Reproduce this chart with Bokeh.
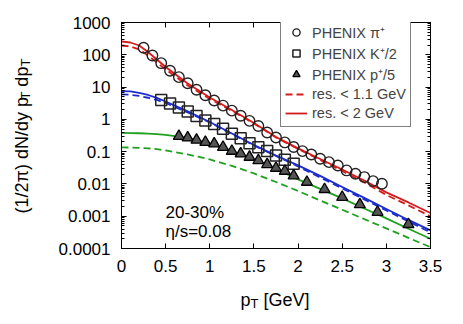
import math
from bokeh.plotting import figure
from bokeh.models import Legend, LegendItem, LinearAxis, LogAxis, FixedTicker, Label, Range1d
from bokeh.embed import file_html
from bokeh.resources import INLINE

# ---------------- data ----------------
pion_pt = [0.25, 0.35, 0.45, 0.55, 0.65, 0.75, 0.85, 0.95, 1.05, 1.15, 1.25, 1.35, 1.45, 1.55,
           1.65, 1.75, 1.85, 1.95, 2.05, 2.15, 2.25, 2.35, 2.45, 2.55, 2.65, 2.75, 2.85, 2.95]
pion_y = [165, 95, 55, 32, 20.3, 13.2, 8.25, 5.61, 3.85, 2.67, 1.86, 1.29, 0.899, 0.625,
          0.393, 0.275, 0.193, 0.140, 0.104, 0.0819, 0.0603, 0.0473, 0.0374, 0.0262, 0.0207,
          0.0163, 0.0122, 0.0101]

kaon_pt = [0.45, 0.55, 0.65, 0.75, 0.85, 0.95, 1.05, 1.15, 1.25, 1.35, 1.45, 1.55, 1.65, 1.75,
           1.85, 1.95]
kaon_y = [3.99, 3.11, 2.34, 1.76, 1.27, 0.925, 0.721, 0.512, 0.358, 0.262, 0.183, 0.138, 0.104,
          0.0762, 0.0561, 0.0422]

proton_pt = [0.65, 0.75, 0.85, 0.95, 1.05, 1.15, 1.25, 1.35, 1.45, 1.55, 1.65, 1.75, 1.85, 1.95,
             2.1, 2.3, 2.5, 2.7, 2.9, 3.25]
proton_y = [0.30, 0.27, 0.23, 0.197, 0.176, 0.138, 0.104, 0.086, 0.068, 0.053, 0.040, 0.031,
            0.025, 0.018, 0.0114, 0.0068, 0.0039, 0.0023, 0.00134, 0.00056]

model_pt = [0, 0.1, 0.2, 0.3, 0.4, 0.5, 0.75, 1.0, 1.25, 1.5, 1.75, 2.0, 2.25, 2.5, 2.75, 3.0,
            3.25, 3.5]
pi_res2 = [258, 240, 194, 122, 71.5, 41.9, 12.9, 4.76, 1.95, 0.774, 0.285, 0.126, 0.0594, 0.0281,
           0.0128, 0.00546, 0.00267, 0.00126]
pi_res11 = [194, 181, 146, 95, 57.8, 35.1, 11.2, 4.29, 1.82, 0.746, 0.275, 0.121, 0.0553, 0.0252,
            0.0111, 0.00456, 0.00216, 0.00099]
k_res2 = [7.46, 7.31, 6.57, 5.69, 4.60, 3.58, 1.76, 0.831, 0.366, 0.161, 0.0762, 0.0374, 0.0177,
          0.00807, 0.00369, 0.00168, 0.000767, 0.000363]
k_res11 = [5.90, 5.78, 5.30, 4.67, 3.99, 3.22, 1.64, 0.80, 0.353, 0.156, 0.0736, 0.0348, 0.0159,
           0.00726, 0.00331, 0.00151, 0.00069, 0.000315]
p_res2 = [0.379, 0.377, 0.371, 0.361, 0.348, 0.329, 0.265, 0.179, 0.105, 0.0574, 0.0291, 0.0138,
          0.0070, 0.00356, 0.00174, 0.000855, 0.00041, 0.000201]
p_res11 = [0.135, 0.134, 0.131, 0.127, 0.120, 0.109, 0.0819, 0.0574, 0.0361, 0.0211, 0.0115,
           0.00603, 0.00308, 0.00159, 0.000813, 0.000419, 0.000214, 0.000110]

x_ticks = [0, 0.5, 1, 1.5, 2, 2.5, 3, 3.5]
x_tick_labels = ["0", "0.5", "1", "1.5", "2", "2.5", "3", "3.5"]
y_ticks = [1e-4, 1e-3, 1e-2, 1e-1, 1, 10, 100, 1000]
y_tick_labels = ["0.0001", "0.001", "0.01", "0.1", "1", "10", "100", "1000"]

legend_labels = ["PHENIX \u03c0\u207a", "PHENIX K\u207a/2", "PHENIX p\u207a/5",
                 "res. < 1.1 GeV", "res. < 2 GeV"]
centrality_text = "20-30%"
viscosity_text = "\u03b7/s=0.08"

# ---------------- layout ----------------
X0, X1 = 0.0, 3.5
Y0, Y1 = 1e-4, 1e3
W, H = 463, 324
FL, FT, FR, FB = 121, 22, 430, 248          # wanted frame box in page px
BL, BR, BT, BB = FL, W - FR, FT, H - FB
FONT = "Liberation Sans"

RED = "#d41c1c"
BLUE = "#1c2cd0"
GREEN = "#1fa01f"

p = figure(width=W, height=H, x_range=Range1d(X0, X1), y_range=Range1d(Y0, Y1),
           y_axis_type="log", output_backend="svg", toolbar_location=None,
           min_border_left=BL, min_border_right=BR, min_border_top=BT, min_border_bottom=BB)
p.xgrid.visible = False
p.ygrid.visible = False
p.outline_line_color = "black"
p.outline_line_width = 1
p.background_fill_color = "white"
p.border_fill_color = "white"


def to_data(px, py):
    x = X0 + (px - FL) / (FR - FL) * (X1 - X0)
    ly = math.log10(Y1) - (py - FT) / (FB - FT) * (math.log10(Y1) - math.log10(Y0))
    return x, 10 ** ly


y_minor = [m * 10.0 ** e for e in range(-4, 3) for m in range(2, 10)]
xt = FixedTicker(ticks=x_ticks, minor_ticks=[])
yt = FixedTicker(ticks=y_ticks, minor_ticks=y_minor)

xax = p.xaxis[0]
xax.ticker = xt
xax.major_label_overrides = {t: l for t, l in zip(x_ticks, x_tick_labels)}
yax = p.yaxis[0]
yax.ticker = yt
yax.major_label_overrides = {t: l for t, l in zip(y_ticks, y_tick_labels)}

for ax in (xax, yax):
    ax.major_tick_in = 5
    ax.major_tick_out = 0
    ax.minor_tick_in = 3
    ax.minor_tick_out = 0
    ax.axis_line_color = "black"
    ax.major_tick_line_color = "black"
    ax.minor_tick_line_color = "black"
    ax.major_label_text_font = FONT
    ax.major_label_text_font_size = "17px"
    ax.major_label_text_color = "black"
    ax.major_label_standoff = 11

top_ax = LinearAxis(ticker=xt, major_tick_in=5, major_tick_out=0, minor_tick_in=0,
                    minor_tick_out=0, major_label_standoff=0, major_label_text_font_size="1px",
                    major_label_overrides={t: "" for t in x_ticks})
right_ax = LogAxis(ticker=yt, major_tick_in=5, major_tick_out=0, minor_tick_in=3,
                   minor_tick_out=0, major_label_standoff=0, major_label_text_font_size="1px",
                   major_label_overrides={t: "" for t in y_ticks})
p.add_layout(top_ax, "above")
p.add_layout(right_ax, "right")

# ---------------- model curves ----------------
lw = 1.8
dash = "7 4"
r_p11 = p.line(model_pt, p_res11, color=GREEN, line_width=lw, line_dash=dash)
r_p2 = p.line(model_pt, p_res2, color=GREEN, line_width=lw)
r_k11 = p.line(model_pt, k_res11, color=BLUE, line_width=lw, line_dash=dash)
r_k2 = p.line(model_pt, k_res2, color=BLUE, line_width=lw)
r_pi11 = p.line(model_pt, pi_res11, color=RED, line_width=lw, line_dash=dash)
r_pi2 = p.line(model_pt, pi_res2, color=RED, line_width=lw)

# ---------------- data points ----------------
r_pi = p.scatter(pion_pt, pion_y, marker="circle", size=10.5, fill_color=None,
                 line_color="#222222", line_width=1.4)
r_k = p.scatter(kaon_pt, kaon_y, marker="square", size=11, fill_color=None,
                line_color="#222222", line_width=1.5)
r_pr = p.scatter(proton_pt, proton_y, marker="triangle", size=11, fill_color="#555555",
                 line_color="black", line_width=1.3)

legend = Legend(items=[
    LegendItem(label=legend_labels[0], renderers=[r_pi]),
    LegendItem(label=legend_labels[1], renderers=[r_k]),
    LegendItem(label=legend_labels[2], renderers=[r_pr]),
    LegendItem(label=legend_labels[3], renderers=[r_pi11]),
    LegendItem(label=legend_labels[4], renderers=[r_pi2]),
], location=(159, 121))
legend.margin = 0
legend.padding = 4
legend.spacing = 1
legend.label_height = 18
legend.glyph_height = 18
legend.glyph_width = 22
legend.label_standoff = 5
legend.label_text_font = FONT
legend.label_text_font_size = "14.5px"
legend.border_line_color = "black"
legend.border_line_width = 1
legend.background_fill_alpha = 1
p.add_layout(legend)

# ---------------- texts ----------------
def add_label(px, py, text, size, angle=0.0, place="center"):
    x, y = to_data(px, py)
    lab = Label(x=x, y=y, text=text, angle=angle, text_font=FONT,
                text_font_size=f"{size}px", text_baseline="alphabetic",
                text_align="left", text_color="black")
    if place == "center":
        p.add_layout(lab)
    else:
        p.add_layout(lab, place)

add_label(165, 212, centrality_text, 17)
add_label(165, 231, viscosity_text, 17)

fs, fsub = 18, 13
space = 0.278 * fs

# x-axis label: p_T [GeV]
xb = 299
x0 = 240
add_label(x0, xb, "p", fs, place="below")
add_label(x0 + 0.556 * fs, xb + 4, "T", fsub, place="above")
add_label(x0 + 0.556 * fs + 0.611 * fsub + space, xb, "[GeV]", fs, place="below")

# y-axis label: (1/2pi) dN/dy p_T dp_T (rotated)
yb = 21
y0 = 213
w1 = 6.329 * fs
wsub = 0.611 * fsub
wdp = 1.112 * fs
add_label(yb, y0, "(1/2\u03c0) dN/dy p", fs, math.pi / 2, place="left")
add_label(yb + 4, y0 - w1, "T", fsub, math.pi / 2, place="right")
add_label(yb, y0 - w1 - wsub - space, "dp", fs, math.pi / 2, place="left")
add_label(yb + 4, y0 - w1 - wsub - space - wdp, "T", fsub, math.pi / 2, place="right")

open("out.html", "w").write(file_html(p, INLINE))
